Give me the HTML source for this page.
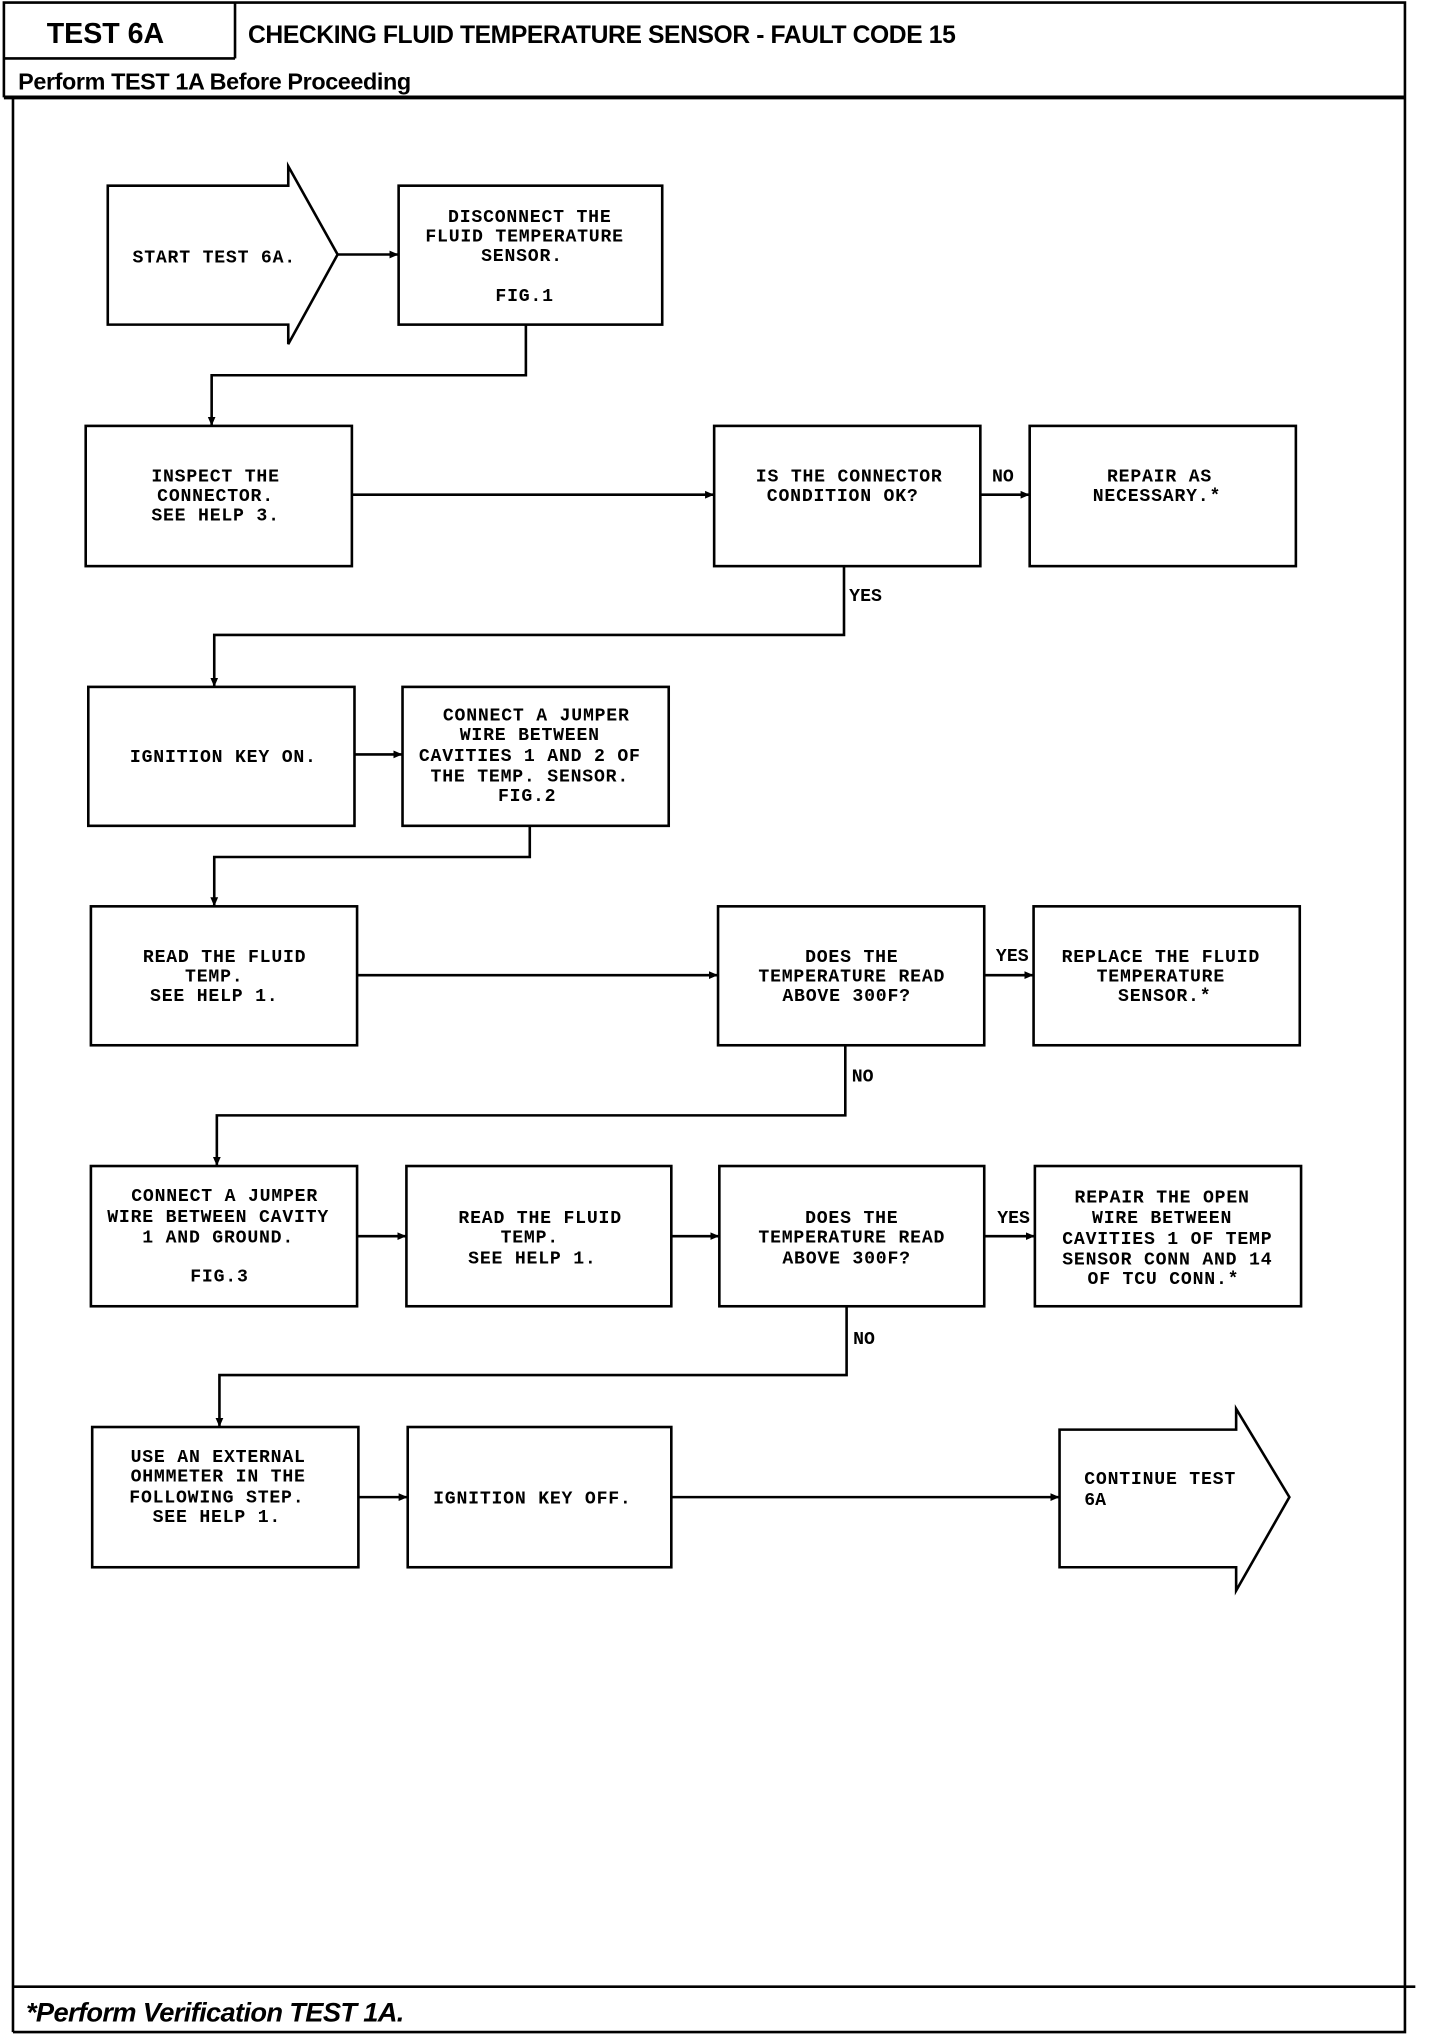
<!DOCTYPE html>
<html><head><meta charset="utf-8"><style>
html,body{margin:0;padding:0;background:#fff;}
svg{display:block;}
.t{font-family:"Liberation Mono",monospace;font-size:14px;letter-spacing:0.6px;fill:#000;text-anchor:middle;font-weight:bold;}
.l{font-family:"Liberation Mono",monospace;font-size:14px;fill:#000;font-weight:bold;}
</style></head><body>
<svg width="1440" height="2036" viewBox="0 0 1109 1568" preserveAspectRatio="none" xmlns="http://www.w3.org/2000/svg">
<defs><marker id="a" markerWidth="8" markerHeight="8" refX="7" refY="4" orient="auto" markerUnits="userSpaceOnUse"><path d="M0,1 L7,4 L0,7 Z" fill="#000"/></marker></defs>
<g fill="none" stroke="#000" stroke-width="2">
<path d="M3,75 V2 H1082 V1565 H10"/>
<line x1="10" y1="75" x2="10" y2="1565"/>
<line x1="3" y1="45" x2="181" y2="45"/>
<line x1="181" y1="2" x2="181" y2="45"/>
<line x1="3" y1="75" x2="1082" y2="75" stroke-width="3"/>
<line x1="10" y1="1530" x2="1090" y2="1530"/>
<path d="M83,143 H222 V128 L260,196 L222,265 V250 H83 Z"/>
<rect x="307" y="143" width="203" height="107"/>
<line x1="260" y1="196" x2="307" y2="196" marker-end="url(#a)"/>
<path d="M405,250 V289 H163 V328" marker-end="url(#a)"/>
<rect x="66" y="328" width="205" height="108"/>
<rect x="550" y="328" width="205" height="108"/>
<rect x="793" y="328" width="205" height="108"/>
<line x1="271" y1="381" x2="550" y2="381" marker-end="url(#a)"/>
<line x1="755" y1="381" x2="793" y2="381" marker-end="url(#a)"/>
<path d="M650,436 V489 H165 V529" marker-end="url(#a)"/>
<rect x="68" y="529" width="205" height="107"/>
<rect x="310" y="529" width="205" height="107"/>
<line x1="273" y1="581" x2="310" y2="581" marker-end="url(#a)"/>
<path d="M408,636 V660 H165 V698" marker-end="url(#a)"/>
<rect x="70" y="698" width="205" height="107"/>
<rect x="553" y="698" width="205" height="107"/>
<rect x="796" y="698" width="205" height="107"/>
<line x1="275" y1="751" x2="553" y2="751" marker-end="url(#a)"/>
<line x1="758" y1="751" x2="796" y2="751" marker-end="url(#a)"/>
<path d="M651,805 V859 H167 V898" marker-end="url(#a)"/>
<rect x="70" y="898" width="205" height="108"/>
<rect x="313" y="898" width="204" height="108"/>
<rect x="554" y="898" width="204" height="108"/>
<rect x="797" y="898" width="205" height="108"/>
<line x1="275" y1="952" x2="313" y2="952" marker-end="url(#a)"/>
<line x1="517" y1="952" x2="554" y2="952" marker-end="url(#a)"/>
<line x1="758" y1="952" x2="797" y2="952" marker-end="url(#a)"/>
<path d="M652,1006 V1059 H169 V1099" marker-end="url(#a)"/>
<rect x="71" y="1099" width="205" height="108"/>
<rect x="314" y="1099" width="203" height="108"/>
<path d="M816,1101 H952 V1085 L993,1153 L952,1225 V1207 H816 Z"/>
<line x1="276" y1="1153" x2="314" y2="1153" marker-end="url(#a)"/>
<line x1="517" y1="1153" x2="816" y2="1153" marker-end="url(#a)"/>
</g>
<g font-family="Liberation Sans,sans-serif" font-weight="bold" fill="#000">
<text x="36" y="33" font-size="22">TEST 6A</text>
<text x="191" y="33" font-size="19" letter-spacing="-0.3">CHECKING FLUID TEMPERATURE SENSOR - FAULT CODE 15</text>
<text x="14" y="69" font-size="18" letter-spacing="-0.3">Perform TEST 1A Before Proceeding</text>
<text x="20" y="1557" font-size="21" font-style="italic" letter-spacing="-0.5">*Perform Verification TEST 1A.</text>
</g>
<text class="t" x="165" y="202">START TEST 6A.</text>
<text class="t" x="408" y="171">DISCONNECT THE</text>
<text class="t" x="404" y="186">FLUID TEMPERATURE</text>
<text class="t" x="402" y="201">SENSOR.</text>
<text class="t" x="404" y="232">FIG.1</text>
<text class="t" x="166" y="371">INSPECT THE</text>
<text class="t" x="166" y="386">CONNECTOR.</text>
<text class="t" x="166" y="401">SEE HELP 3.</text>
<text class="t" x="654" y="371">IS THE CONNECTOR</text>
<text class="t" x="649" y="386">CONDITION OK?</text>
<text class="t" x="893" y="371">REPAIR AS</text>
<text class="t" x="891" y="386">NECESSARY.*</text>
<text class="l" x="764" y="371">NO</text>
<text class="l" x="654" y="463">YES</text>
<text class="t" x="172" y="587">IGNITION KEY ON.</text>
<text class="t" x="413" y="555">CONNECT A JUMPER</text>
<text class="t" x="408" y="570">WIRE BETWEEN</text>
<text class="t" x="408" y="586">CAVITIES 1 AND 2 OF</text>
<text class="t" x="408" y="602">THE TEMP. SENSOR.</text>
<text class="t" x="406" y="617">FIG.2</text>
<text class="t" x="173" y="741">READ THE FLUID</text>
<text class="t" x="165" y="756">TEMP.</text>
<text class="t" x="165" y="771">SEE HELP 1.</text>
<text class="t" x="656" y="741">DOES THE</text>
<text class="t" x="656" y="756">TEMPERATURE READ</text>
<text class="t" x="652" y="771">ABOVE 300F?</text>
<text class="t" x="894" y="741">REPLACE THE FLUID</text>
<text class="t" x="894" y="756">TEMPERATURE</text>
<text class="t" x="897" y="771">SENSOR.*</text>
<text class="l" x="767" y="740">YES</text>
<text class="l" x="656" y="833">NO</text>
<text class="t" x="173" y="925">CONNECT A JUMPER</text>
<text class="t" x="168" y="941">WIRE BETWEEN CAVITY</text>
<text class="t" x="168" y="957">1 AND GROUND.</text>
<text class="t" x="169" y="987">FIG.3</text>
<text class="t" x="416" y="942">READ THE FLUID</text>
<text class="t" x="408" y="957">TEMP.</text>
<text class="t" x="410" y="973">SEE HELP 1.</text>
<text class="t" x="656" y="942">DOES THE</text>
<text class="t" x="656" y="957">TEMPERATURE READ</text>
<text class="t" x="652" y="973">ABOVE 300F?</text>
<text class="t" x="895" y="926">REPAIR THE OPEN</text>
<text class="t" x="895" y="942">WIRE BETWEEN</text>
<text class="t" x="899" y="958">CAVITIES 1 OF TEMP</text>
<text class="t" x="899" y="974">SENSOR CONN AND 14</text>
<text class="t" x="896" y="989">OF TCU CONN.*</text>
<text class="l" x="768" y="942">YES</text>
<text class="l" x="657" y="1035">NO</text>
<text class="t" x="168" y="1126">USE AN EXTERNAL</text>
<text class="t" x="168" y="1141">OHMMETER IN THE</text>
<text class="t" x="167" y="1157">FOLLOWING STEP.</text>
<text class="t" x="167" y="1172">SEE HELP 1.</text>
<text class="t" x="410" y="1158">IGNITION KEY OFF.</text>
<text class="l" x="835" y="1143" letter-spacing="0.6">CONTINUE TEST</text>
<text class="l" x="835" y="1159">6A</text>
</svg>
</body></html>
